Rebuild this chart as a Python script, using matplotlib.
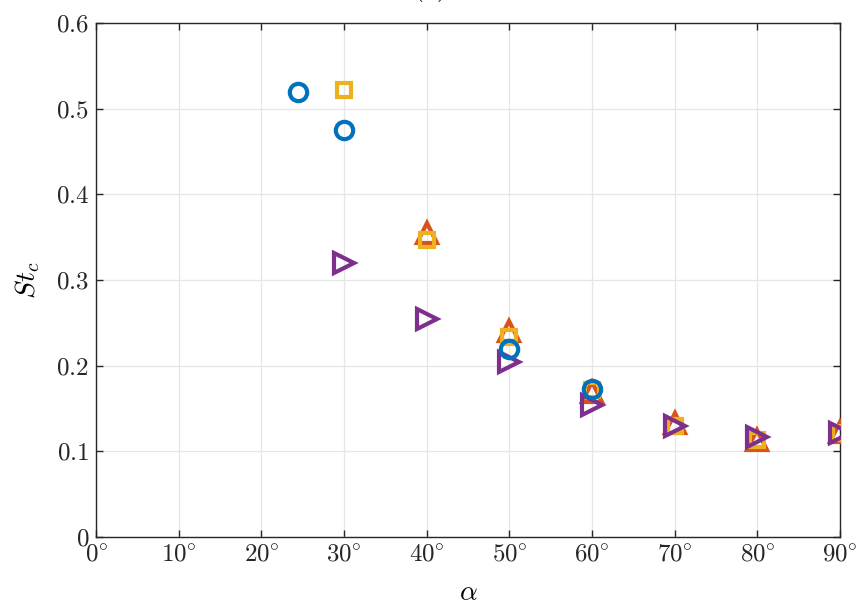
import matplotlib
matplotlib.use('Agg')
import matplotlib.pyplot as plt
import numpy as np

plt.rcParams['mathtext.fontset'] = 'cm'
plt.rcParams['font.family'] = 'serif'
plt.rcParams['font.serif'] = ['cmr10', 'DejaVu Serif']
plt.rcParams['axes.formatter.use_mathtext'] = True

# data
alpha_circ = [24.4, 30, 50, 60]
st_circ = [0.520, 0.475, 0.219, 0.173]

alpha_tri = [40, 50, 60, 70, 80, 90]
st_tri = [0.355, 0.240, 0.169, 0.133, 0.113, 0.122]

alpha_sq = [30, 40, 50, 60, 70, 80, 90]
st_sq = [0.522, 0.347, 0.233, 0.171, 0.130, 0.113, 0.121]

alpha_rt = [30, 40, 50, 60, 70, 80, 90]
st_rt = [0.320, 0.254, 0.204, 0.154, 0.130, 0.117, 0.121]

xticks = np.arange(0, 91, 10)
yticks = [0, 0.1, 0.2, 0.3, 0.4, 0.5, 0.6]

fig = plt.figure(figsize=(8.61, 6.10), dpi=100)
ax = fig.add_axes([0.1115, 0.1197, 0.8641, 0.8426])

mew = 3.0
ax.plot(alpha_tri, st_tri, '^', ms=14.5, mfc='none', mec='#D95319', mew=mew, zorder=3)
ax.plot(alpha_sq, st_sq, 's', ms=10.5, mfc='none', mec='#EDB120', mew=mew, zorder=4)
ax.plot(alpha_rt, st_rt, '>', ms=14.5, mfc='none', mec='#7E2F8E', mew=mew, zorder=5)
ax.plot(alpha_circ, st_circ, 'o', ms=12.5, mfc='none', mec='#0072BD', mew=mew, zorder=6)

ax.set_xlim(0, 90)
ax.set_ylim(0, 0.6)
ax.set_xticks(xticks)
ax.set_xticklabels([r'$%d\!^\circ$' % v for v in xticks])
ax.set_yticks(yticks)
ax.set_yticklabels(['$0$'] + [r'$%.1f$' % v for v in yticks[1:]])
ax.tick_params(direction='in', top=True, right=True, labelsize=18,
               length=5, width=1, colors='#262626', pad=5)
ax.grid(True, color='#e6e6e6', linewidth=0.9)
ax.set_axisbelow(True)
for s in ax.spines.values():
    s.set_color('#262626')
    s.set_linewidth(1)

ax.set_xlabel(r'$\alpha$', fontsize=20, labelpad=10)
ax.set_ylabel(r'$St_c$', fontsize=20, labelpad=10)
fig.text(0.5, 0.996, '(a)', ha='center', va='bottom', fontsize=20)

fig.savefig('out.png', dpi=100)
